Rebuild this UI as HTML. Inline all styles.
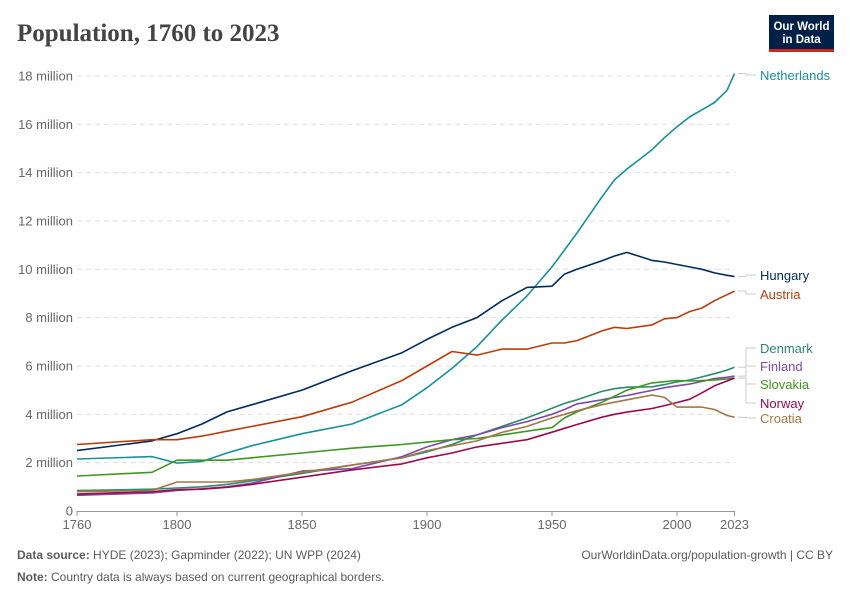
<!DOCTYPE html>
<html><head><meta charset="utf-8"><style>
body{margin:0;background:#fff;}
svg text{font-family:"Liberation Sans",sans-serif;}
</style></head><body>
<svg width="850" height="600" xmlns="http://www.w3.org/2000/svg">
<text x="17" y="41" style="font-family:'Liberation Serif',serif;font-size:25px;font-weight:bold;fill:#444;">Population, 1760 to 2023</text>
<g>
<rect x="769" y="15" width="65" height="37" fill="#002147"/>
<rect x="769" y="49" width="65" height="3" fill="#ce261e"/>
<text x="801.5" y="30" text-anchor="middle" fill="#fff" font-size="11.5" font-weight="bold">Our World</text>
<text x="801.5" y="43" text-anchor="middle" fill="#fff" font-size="11.5" font-weight="bold">in Data</text>
</g>
<g id="grid"></g>
<g id="xaxis"></g>
<g id="lines"></g>
<g id="labels"></g>
<text x="17" y="559" font-size="12" fill="#5b5b5b"><tspan font-weight="bold">Data source:</tspan> HYDE (2023); Gapminder (2022); UN WPP (2024)</text>
<text x="833" y="559" font-size="12" fill="#5b5b5b" text-anchor="end">OurWorldinData.org/population-growth | CC BY</text>
<text x="17" y="581" font-size="12" fill="#5b5b5b"><tspan font-weight="bold">Note:</tspan> Country data is always based on current geographical borders.</text>
</svg>
<script>
const yTicks=[0,2,4,6,8,10,12,14,16,18];
const xTicks=[1760,1800,1850,1900,1950,2000,2023];
const countries=["Netherlands","Hungary","Austria","Denmark","Finland","Slovakia","Norway","Croatia"];
const colors=["#18909c","#002b5e","#b93d0c","#2e8a6e","#7c4aa6","#3f9622","#9c0a4e","#a07845"];
const labelY=[75,275,294,348,366,384,403,418];
const years=[1760,1790,1800,1810,1820,1830,1850,1870,1890,1900,1910,1920,1930,1940,1950,1955,1960,1970,1975,1980,1990,1995,2000,2005,2010,2015,2020,2023];
const netherlands=[2.15,2.25,1.98,2.05,2.4,2.7,3.2,3.6,4.4,5.1,5.9,6.8,7.9,8.9,10.1,10.8,11.5,13.0,13.7,14.15,14.95,15.45,15.9,16.3,16.6,16.9,17.4,18.1];
const hungary=[2.5,2.9,3.2,3.6,4.1,4.4,5.0,5.8,6.55,7.1,7.6,8.0,8.7,9.25,9.3,9.8,10.0,10.35,10.55,10.7,10.37,10.3,10.2,10.1,10.0,9.85,9.75,9.7];
const austria=[2.75,2.95,2.95,3.1,3.3,3.5,3.9,4.5,5.4,6.0,6.6,6.45,6.7,6.7,6.95,6.95,7.05,7.45,7.6,7.55,7.7,7.95,8.0,8.25,8.4,8.7,8.95,9.1];
const denmark=[0.85,0.9,0.95,1.0,1.1,1.25,1.55,1.9,2.2,2.45,2.75,3.15,3.5,3.85,4.25,4.45,4.6,4.95,5.06,5.12,5.14,5.23,5.34,5.42,5.55,5.68,5.83,5.95];
const finland=[0.65,0.75,0.85,0.92,1.0,1.15,1.65,1.75,2.25,2.65,2.95,3.15,3.45,3.7,4.0,4.2,4.43,4.6,4.7,4.78,4.99,5.1,5.18,5.25,5.36,5.48,5.53,5.58];
const slovakia=[1.45,1.6,2.1,2.1,2.1,2.2,2.4,2.6,2.75,2.85,2.95,3.0,3.15,3.3,3.45,3.85,4.1,4.5,4.75,5.0,5.3,5.35,5.4,5.38,5.4,5.42,5.46,5.5];
const norway=[0.7,0.8,0.88,0.9,0.98,1.1,1.4,1.7,1.95,2.2,2.4,2.65,2.8,2.95,3.26,3.42,3.58,3.88,4.0,4.09,4.24,4.36,4.49,4.62,4.89,5.18,5.38,5.5];
const croatia=[0.8,0.85,1.2,1.2,1.2,1.3,1.6,1.9,2.2,2.5,2.7,2.9,3.25,3.5,3.85,4.0,4.15,4.4,4.5,4.6,4.8,4.7,4.3,4.3,4.3,4.2,3.95,3.88];
const series=[netherlands,hungary,austria,denmark,finland,slovakia,norway,croatia];
const NS="http://www.w3.org/2000/svg";
const X=yr=>77+(yr-1760)*2.5;
const Y=v=>511-v*24.17;
function mk(tag,attrs,parent){const e=document.createElementNS(NS,tag);for(const k in attrs)e.setAttribute(k,attrs[k]);parent.appendChild(e);return e;}
const grid=document.getElementById('grid');
yTicks.forEach(v=>{
  if(v>0){const l=mk('line',{x1:77,x2:735,y1:Y(v),y2:Y(v),stroke:'#ddd','stroke-dasharray':'5,4'},grid);
  
  }
  const t=mk('text',{x:73,y:Y(v)+4.5,'text-anchor':'end','font-size':'13',fill:'#666'},grid);
  t.textContent=v===0?'0':v+' million';
  
  
});
const xa=document.getElementById('xaxis');
const ax=mk('line',{x1:77,x2:735,y1:511.5,y2:511.5,stroke:'#999'},xa);


xTicks.forEach(yr=>{
  const tk=mk('line',{x1:X(yr),x2:X(yr),y1:511,y2:516,stroke:'#999'},xa);
  
  
  const t=mk('text',{x:X(yr),y:529,'text-anchor':'middle','font-size':'13',fill:'#666'},xa);
  t.textContent=yr;
  
  
});
const lg=document.getElementById('lines');
const lb=document.getElementById('labels');
series.forEach((s,i)=>{
  const d=s.map((v,j)=>(j?'L':'M')+X(years[j]).toFixed(1)+','+Y(v).toFixed(1)).join(' ');
  const p=mk('path',{d:d,fill:'none',stroke:colors[i],'stroke-width':1.6,'stroke-linejoin':'round'},lg);
  
  
  const ey=Y(s[s.length-1]);
  const c=mk('path',{d:`M738,${ey} H746 V${labelY[i]} H756`,fill:'none',stroke:'#ccc'},lb);
  
  
  const t=mk('text',{x:760,y:labelY[i]+5,'font-size':'13',fill:colors[i]},lb);
  t.textContent=countries[i];
  
  
});
</script>
</body></html>
